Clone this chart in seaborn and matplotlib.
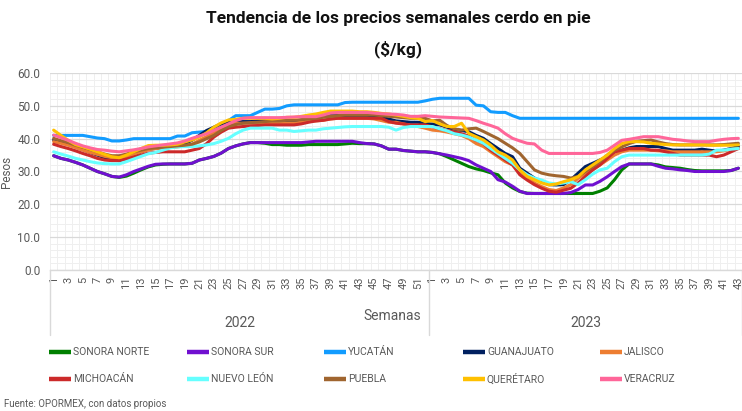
import numpy as np
import pandas as pd
import matplotlib
matplotlib.use("Agg")
import matplotlib.pyplot as plt
from matplotlib.lines import Line2D
import matplotlib.transforms as mtransforms
import seaborn as sns

# ---------------- data ----------------
weeks_2022 = list(range(1, 53))
weeks_2023 = list(range(1, 44))
years = ["2022", "2023"]

states = ["SONORA NORTE", "SONORA SUR", "YUCATÁN", "GUANAJUATO", "JALISCO",
          "MICHOACÁN", "NUEVO LEÓN", "PUEBLA", "QUERÉTARO", "VERACRUZ"]
colors = ["#008000", "#7010D0", "#129CFF", "#002060", "#ED7D31",
          "#CC2A2A", "#66FFFF", "#A0652F", "#FFC000", "#FF6699"]

sonora_norte = [34.8, 34, 33.5, 32.8, 32, 31, 30, 29.3, 28.5, 28.2,
                28.6, 29.5, 30.5, 31.4, 32, 32.2, 32.3, 32.3, 32.3, 32.5,
                33.5, 34, 34.6, 35.6, 37, 37.8, 38.4, 38.8, 38.8, 38.6,
                38.2, 38.2, 38, 38, 38, 38.2, 38.2, 38.2, 38.2, 38.2,
                38.4, 38.6, 38.5, 38.5, 38.4, 37.8, 36.8, 36.8, 36.4, 36.2,
                36, 36,
                35.8, 35.4, 34.5, 33.5, 32.5, 31.5, 30.8, 30.3, 29.6, 29,
                26.5, 25, 23.9, 23.4, 23.3, 23.3, 23.3, 23.3, 23.3, 23.3,
                23.3, 23.3, 23.3, 24, 25, 27.5, 30.5, 32.3, 32.3, 32.3,
                32.3, 32, 31.4, 31.2, 31, 30.6, 30.3, 30.2, 30.2, 30.2,
                30.2, 30.3, 31]
sonora_sur = [34.8, 34, 33.5, 32.8, 32, 31, 30, 29.3, 28.5, 28.3,
              29, 30, 30.8, 31.6, 32.2, 32.3, 32.3, 32.3, 32.3, 32.5,
              33.5, 34, 34.6, 35.6, 37, 37.8, 38.4, 38.8, 38.8, 38.8,
              38.8, 38.8, 38.8, 38.8, 38.8, 39, 39.2, 39.2, 39.2, 39.2,
              39.2, 39.2, 38.8, 38.5, 38.4, 37.8, 36.8, 36.8, 36.4, 36.2,
              36, 36,
              35.8, 35.4, 35, 34.5, 34, 33.3, 32, 31, 30, 27.5,
              26.8, 25.5, 24, 23.3, 23.3, 23.3, 23.3, 23.3, 23.3, 23.6,
              24.5, 25.9, 25.9, 27, 28.4, 30, 31.5, 32.3, 32.3, 32.3,
              32.3, 31.6, 31, 30.8, 30.5, 30.3, 30, 30, 30, 30,
              30, 30.3, 31]
yucatan = [41, 41, 41, 41, 41, 40.6, 40.2, 40, 39.3, 39.3,
           39.6, 40, 40, 40, 40, 40, 40, 40.8, 40.8, 41.8,
           42, 42.2, 43, 44, 45.5, 47, 47, 47, 48, 49,
           49, 49.2, 50, 50.3, 50.3, 50.3, 50.3, 50.3, 50.3, 50.3,
           51, 51.1, 51.1, 51.1, 51.1, 51.1, 51.1, 51.1, 51.1, 51.1,
           51.1, 51.5,
           52, 52.3, 52.3, 52.3, 52.3, 52.3, 50.2, 50, 48.2, 48,
           48, 47, 46.2, 46.2, 46.2, 46.2, 46.2, 46.2, 46.2, 46.2,
           46.2, 46.2, 46.2, 46.2, 46.2, 46.2, 46.2, 46.2, 46.2, 46.2,
           46.2, 46.2, 46.2, 46.2, 46.2, 46.2, 46.2, 46.2, 46.2, 46.2,
           46.2, 46.2, 46.2]
guanajuato = [39.6, 39, 38.3, 37.5, 36.7, 35.8, 35, 34.2, 33.5, 33.3,
              34, 35, 36, 36.8, 37, 37.2, 37.5, 38, 38.5, 39.5,
              41, 42.5, 43.5, 44.5, 45.2, 45.2, 45.2, 45.2, 45.4, 45.4,
              45.4, 45.4, 45.4, 45.4, 45.6, 46, 46.2, 46.8, 47, 47,
              47, 47, 46.8, 46.8, 46.6, 46.5, 46, 45.4, 45.2, 45,
              45, 44.7,
              44.4, 44.2, 43.5, 42.8, 42.5, 42.1, 41, 40.1, 38.5, 37,
              35.5, 34.5, 31, 29.5, 28, 26.9, 26, 25.9, 26, 27.5,
              29.5, 31.5, 32.5, 33.5, 34.5, 36, 36.5, 37.2, 37.6, 37.6,
              37.6, 37.6, 37, 36.5, 36.5, 36.5, 36.5, 36.8, 36.5, 36.2,
              36.5, 37, 37.6]
jalisco = [39.1, 38.6, 38, 37.3, 36.5, 35.8, 35.2, 34.6, 34.2, 34,
           34.5, 35.2, 36, 36.6, 37, 37.1, 37.3, 37.5, 37.8, 38.3,
           39.5, 40.6, 41.8, 43, 44.2, 44.7, 44.7, 44.7, 44.7, 44.7,
           44.7, 44.7, 44.7, 44.7, 45, 45.4, 45.4, 45.6, 46, 46.2,
           46.2, 46.2, 46.2, 46.2, 46, 45.5, 45, 45, 44.5, 44,
           43.7, 43.2,
           42.6, 42.4, 42, 41.5, 41, 40, 38.5, 37.6, 36, 34.5,
           33, 32, 30, 28.4, 26.5, 25.4, 24.5, 24.2, 25, 26,
           27.9, 29.5, 30.5, 32, 33.5, 35, 36, 36.5, 36.5, 36.5,
           36.5, 36.3, 36.3, 36, 36, 36, 36, 36, 36, 36,
           36.3, 36.8, 37]
michoacan = [38.3, 37.6, 37, 36.3, 35.5, 34.8, 34, 33.5, 33.3, 33.3,
             33.8, 34.4, 35, 35.6, 35.8, 36, 36, 36, 36, 36.5,
             37, 38.5, 40.5, 42, 43.2, 43.5, 43.7, 43.9, 44, 44.2,
             44.2, 44.2, 44.2, 44.2, 44.5, 45, 45.4, 45.6, 46, 46.2,
             46.2, 46.2, 46.2, 46.2, 46.2, 46.2, 45.2, 44.7, 44.5, 44.2,
             44.2, 44.2,
             43.6, 43, 42.5, 42.1, 41.5, 40.8, 39.5, 38.5, 36.5, 35,
             33.5, 32, 29, 27.4, 26, 24.9, 24, 23.7, 24.3, 24.9,
             26.5, 28.5, 30.5, 32, 34, 36, 36.5, 37, 37, 37,
             36.5, 36.5, 36, 35.5, 35, 35, 35, 35, 35, 34.5,
             35, 36, 37]
nuevo_leon = [36, 35.3, 34.7, 34, 33.5, 33, 32.6, 32.4, 32.3, 32.3,
              33, 33.8, 34.6, 35.4, 35.8, 36.5, 37.2, 37.5, 37.6, 37.6,
              37.8, 38.1, 38.5, 39.2, 40.1, 41.5, 42.6, 43.2, 43.2, 43.2,
              43.2, 42.6, 42.6, 42.2, 42.4, 42.6, 42.6, 43, 43.2, 43.4,
              43.6, 43.7, 43.7, 43.7, 43.7, 43.7, 43.5, 42.6, 43.4, 43.7,
              43.7, 43.7,
              43.7, 43, 42.4, 41.5, 41.1, 40.5, 39.6, 38.6, 37, 35.5,
              34, 32.5, 30.5, 29, 28, 27.4, 26.5, 26.2, 26.5, 26.9,
              26, 27.5, 29.2, 30.5, 31, 33, 34.5, 35, 35, 35,
              35, 35, 35, 35, 35, 35, 35, 35, 35.3, 36.5,
              36.5, 36.8, 37]
puebla = [40.1, 39.4, 38.8, 38, 37.4, 36.8, 36, 35.3, 34.8, 34.8,
          35.3, 36, 36.5, 37, 37.2, 37.4, 37.6, 37.8, 38, 38.3,
          39, 40, 41, 42.5, 43.7, 44.3, 44.7, 44.9, 45, 45.2,
          45.4, 45.4, 45.6, 45.6, 45.8, 46, 46.2, 46.5, 46.8, 47,
          47.2, 47.2, 47.2, 47.2, 47.2, 47, 46.8, 46.6, 46.4, 46.2,
          46.2, 46.2,
          45.4, 45.6, 44, 43, 42.6, 43, 43.2, 42.2, 41.1, 40,
          38.6, 37.2, 35.5, 33, 30.5, 29.5, 29, 28.7, 28.5, 28,
          28.5, 30, 31.5, 33, 35, 36.5, 37.5, 38.5, 39.2, 39.4,
          39.6, 39, 38.5, 38.2, 38.1, 38.1, 38.1, 38.1, 38.1, 38.1,
          38.2, 38.4, 38.6]
queretaro = [42.6, 41, 39.5, 38.2, 37.5, 36.8, 36, 35.2, 34.5, 34.2,
             35, 36, 37, 37.9, 38, 38, 38.1, 38.3, 39, 39.6,
             40.5, 41.8, 43.5, 44.8, 45.7, 45.9, 46.2, 46.2, 46.2, 46.2,
             46, 46.2, 46.5, 46.5, 46.8, 47.2, 47.5, 48, 48.4, 48.4,
             48.4, 48.4, 48.2, 48.2, 48, 47.7, 47.5, 47.2, 46.8, 46.4,
             46.2, 45.2,
             45.5, 44.5, 43.7, 43.7, 44.7, 41.6, 40.6, 39.6, 38, 36,
             35, 33.5, 30.5, 28.5, 27.5, 26.5, 25.9, 26.2, 26.9, 27.5,
             28.4, 30.5, 32, 33.5, 35, 37, 38.5, 39.1, 39.1, 39,
             38.6, 38.4, 38.2, 38.1, 38.1, 38.1, 38.1, 38.1, 38, 38,
             38, 38, 38.1]
veracruz = [41.1, 40.3, 39.5, 38.6, 37.8, 37.2, 36.7, 36.5, 36.2, 36,
            36.3, 36.6, 37, 37.5, 37.8, 38.1, 38.4, 38.7, 39.3, 40.1,
            40.8, 41.5, 42.5, 43.5, 44.5, 45.5, 46.2, 46.4, 46.4, 46.4,
            46.4, 46.4, 46.5, 46.6, 46.7, 46.7, 46.7, 47.2, 47.8, 48,
            48, 48, 48, 48, 47.8, 47.6, 47.5, 47.4, 47.2, 46.8,
            46.8, 47,
            46.8, 46.6, 46.5, 46.4, 46.3, 46.2, 45.5, 44.7, 44, 43.2,
            41.5, 40.1, 39.3, 38.6, 38.4, 36.5, 35.5, 35.5, 35.5, 35.5,
            35.5, 35.5, 35.5, 35.8, 36.5, 38, 39.5, 39.8, 40.2, 40.6,
            40.6, 40.6, 40.2, 39.8, 39.6, 39.3, 39.1, 39.1, 39.1, 39.5,
            39.8, 40, 40.1]

series = [sonora_norte, sonora_sur, yucatan, guanajuato, jalisco,
          michoacan, nuevo_leon, puebla, queretaro, veracruz]

n_points = len(weeks_2022) + len(weeks_2023)
idx = np.arange(n_points)
rows = []
for name, vals in zip(states, series):
    for i, v in zip(idx, vals):
        rows.append({"idx": i, "estado": name, "precio": v})
df = pd.DataFrame(rows)

# ---------------- style ----------------
sns.set_style("white")
plt.rcParams["font.family"] = ["Roboto", "DejaVu Sans"]
GRAY = "#595959"

W, H = 742, 411
fig = plt.figure(figsize=(W / 100, H / 100), dpi=100)
left_px, right_px, top_px, bot_px = 50, 742, 73, 270
ax = fig.add_axes([left_px / W, 1 - bot_px / H,
                   (right_px - left_px) / W, (bot_px - top_px) / H])

sns.lineplot(data=df, x="idx", y="precio", hue="estado", hue_order=states,
             palette=dict(zip(states, colors)), linewidth=2.2, ax=ax,
             legend=False, zorder=3)

ax.set_xlim(-0.5, n_points - 0.5)
ax.set_ylim(0, 60)

# y ticks
ax.set_yticks(np.arange(0, 61, 10))
ax.set_yticklabels([f"{v:.1f}" for v in np.arange(0, 61, 10)], color=GRAY, fontsize=8.5)
ax.set_yticks(np.arange(0, 61, 2), minor=True)

# x ticks: odd weeks
tick_pos = [i for i, w in enumerate(weeks_2022) if w % 2 == 1] + \
           [len(weeks_2022) + i for i, w in enumerate(weeks_2023) if w % 2 == 1]
tick_lab = [str(w) for w in weeks_2022 if w % 2 == 1] + \
           [str(w) for w in weeks_2023 if w % 2 == 1]
ax.set_xticks(tick_pos)
ax.set_xticklabels(tick_lab, rotation=90, color=GRAY, fontsize=8)
ax.set_xticks(np.arange(-0.5, n_points, 1), minor=True)
ax.tick_params(axis="both", which="both", length=0)
ax.tick_params(axis="x", pad=5)
ax.tick_params(axis="y", pad=7)

ax.grid(True, which="major", axis="y", color="#D9D9D9", linewidth=0.9, zorder=1)
ax.grid(True, which="minor", axis="both", color="#EFEFEF", linewidth=0.7, zorder=0)
ax.set_axisbelow(True)
for s in ["left", "right", "top"]:
    ax.spines[s].set_visible(False)
ax.spines["bottom"].set_color("#D9D9D9")
ax.spines["bottom"].set_linewidth(1.0)

ax.set_xlabel("")
ax.set_ylabel("Pesos", color=GRAY, fontsize=8.5)
ax.yaxis.set_label_coords(-(left_px - 13) / (right_px - left_px), 0.5)

# group separators and year labels
trans = mtransforms.blended_transform_factory(ax.transData, ax.transAxes)
sep_bottom = -(335 - bot_px) / (bot_px - top_px)
for xs in [-0.5, len(weeks_2022) - 0.5, n_points - 0.5]:
    ax.plot([xs, xs], [0, sep_bottom], transform=trans, color="#D9D9D9",
            linewidth=1.0, clip_on=False)
year_y = -(323 - bot_px) / (bot_px - top_px)
ax.text((len(weeks_2022) - 1) / 2, year_y, years[0], transform=trans,
        ha="center", va="center", color=GRAY, fontsize=10)
ax.text(len(weeks_2022) + (len(weeks_2023) - 1) / 2, year_y, years[1], transform=trans,
        ha="center", va="center", color=GRAY, fontsize=10)
fig.text(392 / W, 1 - 316 / H, "Semanas", ha="center", va="center",
         color=GRAY, fontsize=10)

# title
fig.text(398 / W, 1 - 19 / H, "Tendencia de los precios semanales cerdo en pie",
         ha="center", va="center", fontsize=12.5, fontweight="bold", color="#111111")
fig.text(398 / W, 1 - 49 / H, "($/kg)",
         ha="center", va="center", fontsize=12.5, fontweight="bold", color="#111111")

# legend (manual layout to match fixed column pitch)
col_x = [49, 187, 324, 463, 600]
row_y = [352, 379]
for k, (name, c) in enumerate(zip(states, colors)):
    r, cidx = divmod(k, 5)
    x0 = col_x[cidx]
    y0 = row_y[r]
    fig.add_artist(Line2D([x0 / W, (x0 + 22) / W], [1 - y0 / H, 1 - y0 / H],
                          color=c, linewidth=3.2, solid_capstyle="butt"))
    fig.text((x0 + 24) / W, 1 - y0 / H, name, ha="left", va="center",
             color=GRAY, fontsize=7.5)

fig.text(4 / W, 1 - 404 / H, "Fuente: OPORMEX, con datos propios",
         ha="left", va="center", color=GRAY, fontsize=7)

fig.savefig("out.png", dpi=100)
